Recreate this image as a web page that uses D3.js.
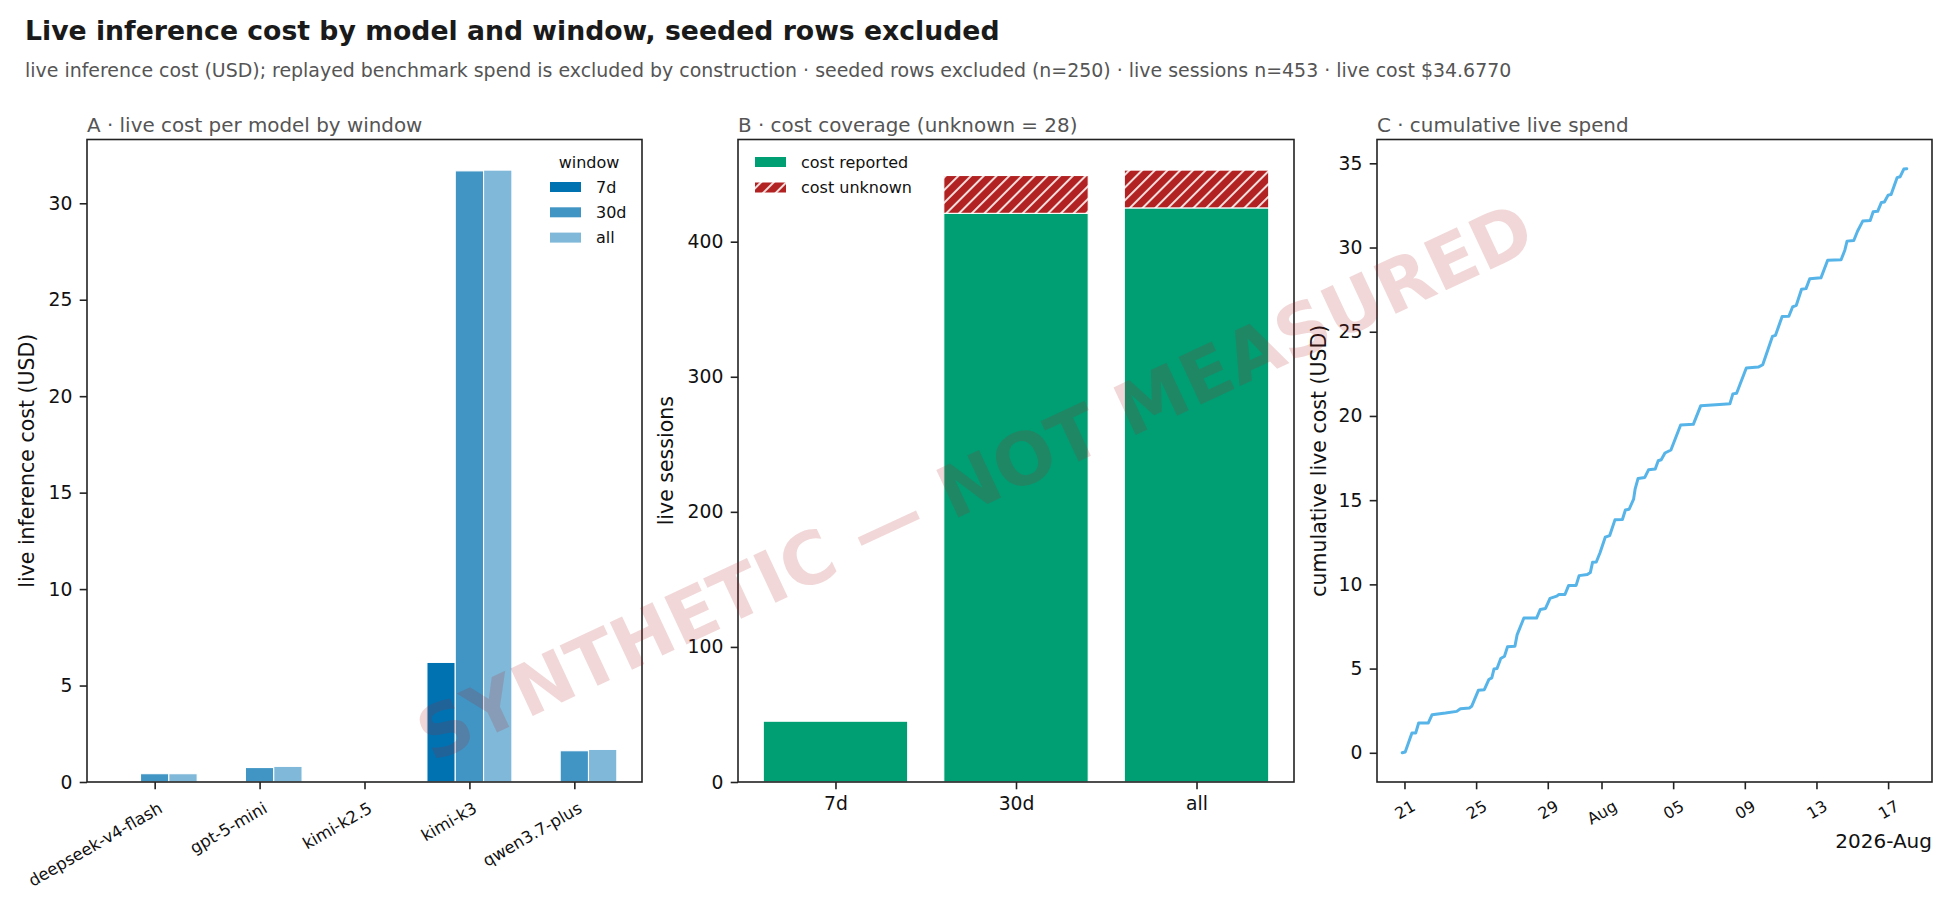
<!DOCTYPE html>
<html>
<head>
<meta charset="utf-8">
<script src="https://d3js.org/d3.v7.min.js"></script>
<style>
  body { margin: 0; background: #fff; }
  svg text { font-family: "DejaVu Sans", sans-serif; }
</style>
</head>
<body>
<div id="chart"></div>
<script>
(function(){
  'use strict';

  // panel A: live cost per model, by window
  var models = ["deepseek-v4-flash", "gpt-5-mini", "kimi-k2.5", "kimi-k3", "qwen3.7-plus"];
  var windows = ["7d", "30d", "all"];
  var cost7d = [0, 0, 0, 6.2, 0];
  var cost30d = [0.43, 0.75, 0, 31.68, 1.62];
  var costAll = [0.43, 0.81, 0.01, 31.72, 1.69];
  var costTicks = [0, 5, 10, 15, 20, 25, 30];

  // panel B: sessions with / without a reported cost
  var coverageWindows = ["7d", "30d", "all"];
  var sessionsReported = [45, 421, 425];
  var sessionsUnknown = [0, 28, 28];
  var sessionTicks = [0, 100, 200, 300, 400];

  // panel C: cumulative live spend
  var spendTimes = [
    "2026-07-20 21:00", "2026-07-21 01:00", "2026-07-21 10:00", "2026-07-21 15:00", "2026-07-21 19:00",
    "2026-07-22 08:00", "2026-07-22 13:00", "2026-07-23 07:00", "2026-07-23 22:00", "2026-07-24 03:00",
    "2026-07-24 15:00", "2026-07-24 18:00", "2026-07-25 03:00", "2026-07-25 11:00", "2026-07-25 17:00",
    "2026-07-25 21:00", "2026-07-26 00:00", "2026-07-26 04:00", "2026-07-26 09:00", "2026-07-26 14:00",
    "2026-07-26 18:00", "2026-07-27 04:00", "2026-07-27 07:00", "2026-07-27 16:00", "2026-07-28 09:00",
    "2026-07-28 14:00", "2026-07-28 21:00", "2026-07-29 03:00", "2026-07-29 12:00", "2026-07-29 15:00",
    "2026-07-29 23:00", "2026-07-30 04:00", "2026-07-30 14:00", "2026-07-30 18:00", "2026-07-31 05:00",
    "2026-07-31 09:00", "2026-07-31 12:00", "2026-07-31 17:00", "2026-07-31 22:00", "2026-08-01 05:00",
    "2026-08-01 11:00", "2026-08-01 18:00", "2026-08-02 04:00", "2026-08-02 08:00", "2026-08-02 13:00",
    "2026-08-02 19:00", "2026-08-02 21:00", "2026-08-03 01:00", "2026-08-03 10:00", "2026-08-03 15:00",
    "2026-08-04 00:00", "2026-08-04 04:00", "2026-08-04 08:00", "2026-08-04 13:00", "2026-08-04 21:00",
    "2026-08-05 10:00", "2026-08-06 03:00", "2026-08-06 13:00", "2026-08-07 19:00", "2026-08-08 04:00",
    "2026-08-08 08:00", "2026-08-08 13:00", "2026-08-09 02:00", "2026-08-09 18:00", "2026-08-10 00:00",
    "2026-08-10 13:00", "2026-08-10 17:00", "2026-08-11 02:00", "2026-08-11 11:00", "2026-08-11 16:00",
    "2026-08-11 21:00", "2026-08-12 04:00", "2026-08-12 10:00", "2026-08-12 15:00", "2026-08-13 06:00",
    "2026-08-13 15:00", "2026-08-14 09:00", "2026-08-14 14:00", "2026-08-14 17:00", "2026-08-15 02:00",
    "2026-08-15 07:00", "2026-08-15 14:00", "2026-08-16 00:00", "2026-08-16 04:00", "2026-08-16 10:00",
    "2026-08-16 15:00", "2026-08-16 19:00", "2026-08-17 00:00", "2026-08-17 04:00", "2026-08-17 12:00",
    "2026-08-17 16:00", "2026-08-17 21:00", "2026-08-18 01:00"
  ];
  var spendCum = [
    0.00, 0.05, 1.17, 1.17, 1.77,
    1.77, 2.26, 2.36, 2.46, 2.62,
    2.66, 2.76, 3.71, 3.75, 4.35,
    4.45, 4.98, 5.00, 5.60, 5.73,
    6.29, 6.33, 7.02, 8.00, 8.00,
    8.51, 8.57, 9.17, 9.30, 9.40,
    9.40, 9.94, 9.94, 10.52, 10.58,
    10.70, 11.31, 11.33, 11.88, 12.80,
    12.90, 13.83, 13.85, 14.42, 14.46,
    15.06, 15.65, 16.29, 16.35, 16.80,
    16.85, 17.34, 17.40, 17.80, 17.98,
    19.46, 19.50, 20.61, 20.70, 20.72,
    21.31, 21.35, 22.85, 22.90, 23.04,
    24.72, 24.78, 25.90, 25.92, 26.47,
    26.57, 27.52, 27.56, 28.15, 28.20,
    29.24, 29.27, 29.84, 30.38, 30.42,
    30.97, 31.57, 31.60, 32.12, 32.15,
    32.68, 32.70, 33.11, 33.15, 34.15,
    34.20, 34.66, 34.68
  ];
  var spendTicks = [0, 5, 10, 15, 20, 25, 30, 35];
  var dateTicks = ["2026-07-21 00:00", "2026-07-25 00:00", "2026-07-29 00:00", "2026-08-01 00:00",
                   "2026-08-05 00:00", "2026-08-09 00:00", "2026-08-13 00:00", "2026-08-17 00:00"];
  var dateTickLabels = ["21", "25", "29", "Aug", "05", "09", "13", "17"];

  var TOP = 139.5, BOTTOM = 782;
  var TICK = 7.3, PAD = 7.3;
  var INK = "#222";

  var svg = d3.select("#chart").append("svg")
              .attr("width", 1950)
              .attr("height", 900);

  svg.append("text")
     .attr("x", 25).attr("y", 40)
     .attr("font-size", 26.7).attr("font-weight", "bold").attr("fill", "#1a1a1a")
     .text("Live inference cost by model and window, seeded rows excluded");

  svg.append("text")
     .attr("x", 25).attr("y", 77)
     .attr("font-size", 18.95).attr("fill", "#555")
     .text("live inference cost (USD); replayed benchmark spend is excluded by construction \u00b7 seeded rows excluded (n=250) \u00b7 live sessions n=453 \u00b7 live cost $34.6770");

  // hatch used for the "cost unknown" stack
  var pat = svg.append("defs").append("pattern")
     .attr("id", "hatch").attr("patternUnits", "userSpaceOnUse")
     .attr("width", 9).attr("height", 9)
     .attr("patternTransform", "rotate(45)");
  pat.append("rect").attr("width", 9).attr("height", 9).attr("fill", "#b22222");
  pat.append("line").attr("x1", 1).attr("y1", 0).attr("x2", 1).attr("y2", 9)
     .attr("stroke", "#fff").attr("stroke-width", 1.7);

  function styleAxis(g, fs) {
    g.attr("font-size", null).attr("font-family", null);
    g.select(".domain").remove();
    g.selectAll(".tick line").attr("stroke", INK).attr("stroke-width", 1.6);
    g.selectAll(".tick text").attr("fill", "#111").attr("font-size", fs);
  }

  function frame(left, right) {
    svg.append("rect")
       .attr("x", left).attr("y", TOP)
       .attr("width", right - left).attr("height", BOTTOM - TOP)
       .attr("fill", "none").attr("stroke", INK).attr("stroke-width", 1.6);
  }

  function panelTitle(x, txt) {
    svg.append("text").attr("x", x).attr("y", 132)
       .attr("font-size", 19.9).attr("fill", "#555").text(txt);
  }

  function yLabel(x, txt) {
    svg.append("text")
       .attr("transform", "translate(" + x + "," + ((TOP + BOTTOM) / 2) + ") rotate(-90)")
       .attr("text-anchor", "middle").attr("dy", "0.35em")
       .attr("font-size", 20.5).attr("fill", "#111").text(txt);
  }

  // ---------- A ----------
  var aL = 87, aR = 642;
  var costByWindow = [cost7d, cost30d, costAll];
  var winOpacity = [1, 0.75, 0.5];
  var barW = 0.27;
  var xA = d3.scaleLinear().domain([-0.645, models.length - 1 + 0.645]).range([aL, aR]);
  var yA = d3.scaleLinear().domain([0, d3.max(costAll) * 1.05]).range([BOTTOM, TOP]);

  windows.forEach(function(w, wi) {
    svg.append("g").selectAll("rect")
       .data(costByWindow[wi])
       .join("rect")
       .attr("x", function(d, i){ return xA(i + (wi - 1) * barW - barW / 2); })
       .attr("width", xA(barW) - xA(0))
       .attr("y", function(d){ return yA(d); })
       .attr("height", function(d){ return yA(0) - yA(d); })
       .attr("fill", "#0072B2").attr("fill-opacity", winOpacity[wi])
       .attr("stroke", "#fff").attr("stroke-width", 1.1);
  });

  var axA = svg.append("g").attr("transform", "translate(" + aL + ",0)")
     .call(d3.axisLeft(yA).tickValues(costTicks).tickSize(TICK).tickPadding(PAD));
  styleAxis(axA, 18.75);

  var axAx = svg.append("g").attr("transform", "translate(0," + BOTTOM + ")")
     .call(d3.axisBottom(xA).tickValues(d3.range(models.length))
            .tickFormat(function(i){ return models[i]; }).tickSize(TICK));
  styleAxis(axAx, 16.5);
  axAx.selectAll(".tick text")
     .attr("y", null).attr("dy", "0.76em")
     .attr("text-anchor", "end")
     .attr("transform", "translate(2," + (TICK + PAD + 4) + ") rotate(-30)");

  frame(aL, aR);
  panelTitle(aL, "A \u00b7 live cost per model by window");
  yLabel(27, "live inference cost (USD)");

  var legA = svg.append("g");
  legA.append("text").attr("x", 589).attr("y", 162).attr("dy", "0.35em")
      .attr("text-anchor", "middle").attr("font-size", 16).attr("fill", "#111").text("window");
  windows.forEach(function(w, wi) {
    var cy = 187 + wi * 25.3;
    legA.append("rect").attr("x", 550).attr("y", cy - 5).attr("width", 31).attr("height", 10)
        .attr("fill", "#0072B2").attr("fill-opacity", winOpacity[wi]);
    legA.append("text").attr("x", 596).attr("y", cy).attr("dy", "0.35em")
        .attr("font-size", 16).attr("fill", "#111").text(w);
  });

  // ---------- B ----------
  var bL = 738, bR = 1294;
  // bars 0.8 wide with matplotlib's 5% margins
  var unitB = (bR - bL) / 3.08;
  var cxB = function(i){ return bL + (0.54 + i) * unitB; };
  var totals = sessionsReported.map(function(r, i){ return r + sessionsUnknown[i]; });
  var yB = d3.scaleLinear().domain([0, d3.max(totals) * 1.05]).range([BOTTOM, TOP]);

  svg.append("g").selectAll("rect")
     .data(sessionsReported).join("rect")
     .attr("x", function(d, i){ return cxB(i) - 0.4 * unitB; })
     .attr("width", 0.8 * unitB)
     .attr("y", function(d){ return yB(d); })
     .attr("height", function(d){ return yB(0) - yB(d); })
     .attr("fill", "#009E73").attr("stroke", "#fff").attr("stroke-width", 1.1);

  svg.append("g").selectAll("rect")
     .data(sessionsUnknown).join("rect")
     .attr("x", function(d, i){ return cxB(i) - 0.4 * unitB; })
     .attr("width", 0.8 * unitB)
     .attr("y", function(d, i){ return yB(sessionsReported[i] + d); })
     .attr("height", function(d){ return yB(0) - yB(d); })
     .attr("fill", "url(#hatch)").attr("stroke", "#fff").attr("stroke-width", 1.1);

  var axB = svg.append("g").attr("transform", "translate(" + bL + ",0)")
     .call(d3.axisLeft(yB).tickValues(sessionTicks).tickSize(TICK).tickPadding(PAD));
  styleAxis(axB, 18.75);

  var xBpos = d3.scaleOrdinal().domain(coverageWindows).range(coverageWindows.map(function(c, i){ return cxB(i); }));
  var axBx = svg.append("g").attr("transform", "translate(0," + BOTTOM + ")")
     .call(d3.axisBottom(xBpos).tickSize(TICK).tickPadding(PAD));
  styleAxis(axBx, 18.75);

  frame(bL, bR);
  panelTitle(bL, "B \u00b7 cost coverage (unknown = " + d3.max(sessionsUnknown) + ")");
  yLabel(666, "live sessions");

  var legB = svg.append("g");
  [["cost reported", "#009E73"], ["cost unknown", "url(#hatch)"]].forEach(function(e, i) {
    var cy = 162 + i * 25.5;
    legB.append("rect").attr("x", 755).attr("y", cy - 5).attr("width", 31).attr("height", 10)
        .attr("fill", e[1]);
    legB.append("text").attr("x", 801).attr("y", cy).attr("dy", "0.35em")
        .attr("font-size", 16).attr("fill", "#111").text(e[0]);
  });

  // ---------- C ----------
  var cL = 1377, cR = 1932;
  var parse = d3.timeParse("%Y-%m-%d %H:%M");
  var times = spendTimes.map(parse);
  var ext = d3.extent(times);
  var padT = (ext[1] - ext[0]) * 0.05;
  var xC = d3.scaleTime().domain([new Date(+ext[0] - padT), new Date(+ext[1] + padT)]).range([cL, cR]);
  var padV = d3.max(spendCum) * 0.05;
  var yC = d3.scaleLinear().domain([-padV, d3.max(spendCum) + padV]).range([BOTTOM, TOP]);

  svg.append("path")
     .datum(spendCum)
     .attr("d", d3.line().x(function(d, i){ return xC(times[i]); }).y(function(d){ return yC(d); }))
     .attr("fill", "none").attr("stroke", "#56B4E9").attr("stroke-width", 3)
     .attr("stroke-linejoin", "round").attr("stroke-linecap", "round");

  var axC = svg.append("g").attr("transform", "translate(" + cL + ",0)")
     .call(d3.axisLeft(yC).tickValues(spendTicks).tickSize(TICK).tickPadding(PAD));
  styleAxis(axC, 18.75);

  var tickDates = dateTicks.map(parse);
  var axCx = svg.append("g").attr("transform", "translate(0," + BOTTOM + ")")
     .call(d3.axisBottom(xC).tickValues(tickDates)
            .tickFormat(function(d, i){ return dateTickLabels[i]; }).tickSize(TICK));
  styleAxis(axCx, 16);
  axCx.selectAll(".tick text").each(function() {
    var t = d3.select(this);
    var w = this.getComputedTextLength();
    var h = 16 * 1.17;
    var bh = w * 0.5 + h * 0.866;
    t.attr("y", null).attr("dy", "0.345em").attr("text-anchor", "middle")
     .attr("transform", "translate(0," + (TICK + PAD + bh / 2) + ") rotate(-30)");
  });
  svg.append("text").attr("x", cR).attr("y", 848).attr("text-anchor", "end")
     .attr("font-size", 20).attr("fill", "#111").text("2026-Aug");

  frame(cL, cR);
  panelTitle(cL, "C \u00b7 cumulative live spend");
  yLabel(1319, "cumulative live cost (USD)");

  // watermark
  svg.append("text")
     .attr("transform", "translate(975,482) rotate(-25)")
     .attr("text-anchor", "middle").attr("dy", "0.35em")
     .attr("font-size", 72).attr("font-weight", "bold")
     .attr("fill", "#b22222").attr("fill-opacity", 0.18)
     .text("SYNTHETIC \u2014 NOT MEASURED");
})();
</script>
</body>
</html>
